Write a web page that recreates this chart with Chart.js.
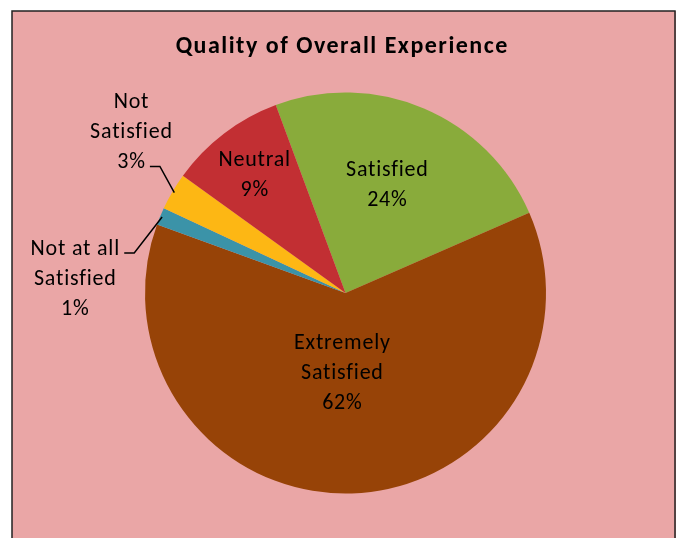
<!DOCTYPE html>
<html>
<head>
<meta charset="utf-8">
<script src="https://cdn.jsdelivr.net/npm/chart.js@4/dist/chart.umd.min.js"></script>
<style>
  html, body { margin: 0; padding: 0; background: #ffffff; }
  #wrap { width: 678px; height: 538px; }
</style>
</head>
<body>
<div id="wrap"><canvas id="chart" width="678" height="538"></canvas></div>
<script>
// chart data, clockwise from the top
const chartTitle = "Quality of Overall Experience";
const categories = [
    ["Satisfied"],
    ["Extremely", "Satisfied"],
    ["Not at all", "Satisfied"],
    ["Not", "Satisfied"],
    ["Neutral"]
];
const shares = [24.1, 62.1, 1.4, 3.0, 9.4];
const sliceColors = ["#89ab3b", "#974307", "#3b93a8", "#fdb714", "#c22f33"];

const pageBg = "#eaa6a6";
const fontFamily = "Carlito, Calibri, Lato, sans-serif";

// label placement: fraction of radius, angle shift (deg) from slice middle, leader line
const labelPlace = [
    { r: 0.584, da: -2.3 },
    { r: 0.39, da: 4.4 },
    { r: 1.352, da: -19.1, leader: { line: 0 } },
    { r: 1.342, da: 6.75, leader: { line: 2 } },
    { r: 0.751, da: 0 }
];

const lineGap = 30;
const labelSize = 22;

function spacedText(ctx, txt, x, y, spacing) {
    // centre text with extra letter spacing
    ctx.letterSpacing = spacing + "px";
    const w = ctx.measureText(txt).width - spacing;
    ctx.textAlign = "left";
    ctx.fillText(txt, x - w / 2, y);
    ctx.letterSpacing = "0px";
    return w;
}

const framePlugin = {
    id: "framePlugin",
    beforeDraw: (chart) => {
        const ctx = chart.ctx;
        ctx.save();
        ctx.fillStyle = "#ffffff";
        ctx.fillRect(0, 0, chart.width, chart.height);
        ctx.fillStyle = pageBg;
        ctx.fillRect(12, 11, 664, 540);
        ctx.strokeStyle = "#222222";
        ctx.lineWidth = 1.5;
        ctx.strokeRect(12, 11, 663, 560);
        ctx.restore();
    },
    afterDraw: (chart) => {
        const ctx = chart.ctx;
        ctx.save();
        // title
        ctx.fillStyle = "#000000";
        ctx.textBaseline = "alphabetic";
        ctx.font = "bold 24px " + fontFamily;
        spacedText(ctx, chartTitle, 341.5, 52.5, 1.5);

        const meta = chart.getDatasetMeta(0);
        const total = shares.reduce((a, b) => a + b, 0);
        ctx.font = labelSize + "px " + fontFamily;
        meta.data.forEach((arc, i) => {
            const p = labelPlace[i];
            const mid = (arc.startAngle + arc.endAngle) / 2;
            const a = mid + p.da * Math.PI / 180;
            const cx = arc.x + Math.cos(a) * arc.outerRadius * p.r;
            const cy = arc.y + Math.sin(a) * arc.outerRadius * p.r;
            const lines = categories[i].concat([Math.round(shares[i] / total * 100) + "%"]);
            const top = cy - (lines.length - 1) * lineGap / 2;
            const widths = lines.map((txt, k) =>
                spacedText(ctx, txt, cx, top + k * lineGap + 7.8, 0.8));
            if (p.leader) {
                const w = widths[p.leader.line];
                const sx = cx + w / 2 + 5;
                const sy = top + p.leader.line * lineGap + 6;
                const ex = arc.x + Math.cos(mid) * arc.outerRadius * 0.99;
                const ey = arc.y + Math.sin(mid) * arc.outerRadius * 0.99;
                ctx.strokeStyle = "#000000";
                ctx.lineWidth = 1.5;
                ctx.beginPath();
                ctx.moveTo(sx, sy);
                ctx.lineTo(sx + 10, sy);
                ctx.lineTo(ex, ey);
                ctx.stroke();
            }
        });
        ctx.restore();
    }
};

new Chart(document.getElementById("chart").getContext("2d"), {
    type: "pie",
    data: {
        labels: categories.map(c => c.join(" ")),
        datasets: [{
            data: shares,
            backgroundColor: sliceColors,
            borderWidth: 0,
            hoverOffset: 0,
            offset: 0
        }]
    },
    plugins: [framePlugin],
    options: {
        responsive: false,
        animation: false,
        rotation: -20.35,
        layout: { padding: { top: 92.5, bottom: 44.5, left: 13, right: 0 } },
        plugins: {
            legend: { display: false },
            tooltip: { enabled: false },
            title: { display: false }
        }
    }
});
</script>
</body>
</html>
